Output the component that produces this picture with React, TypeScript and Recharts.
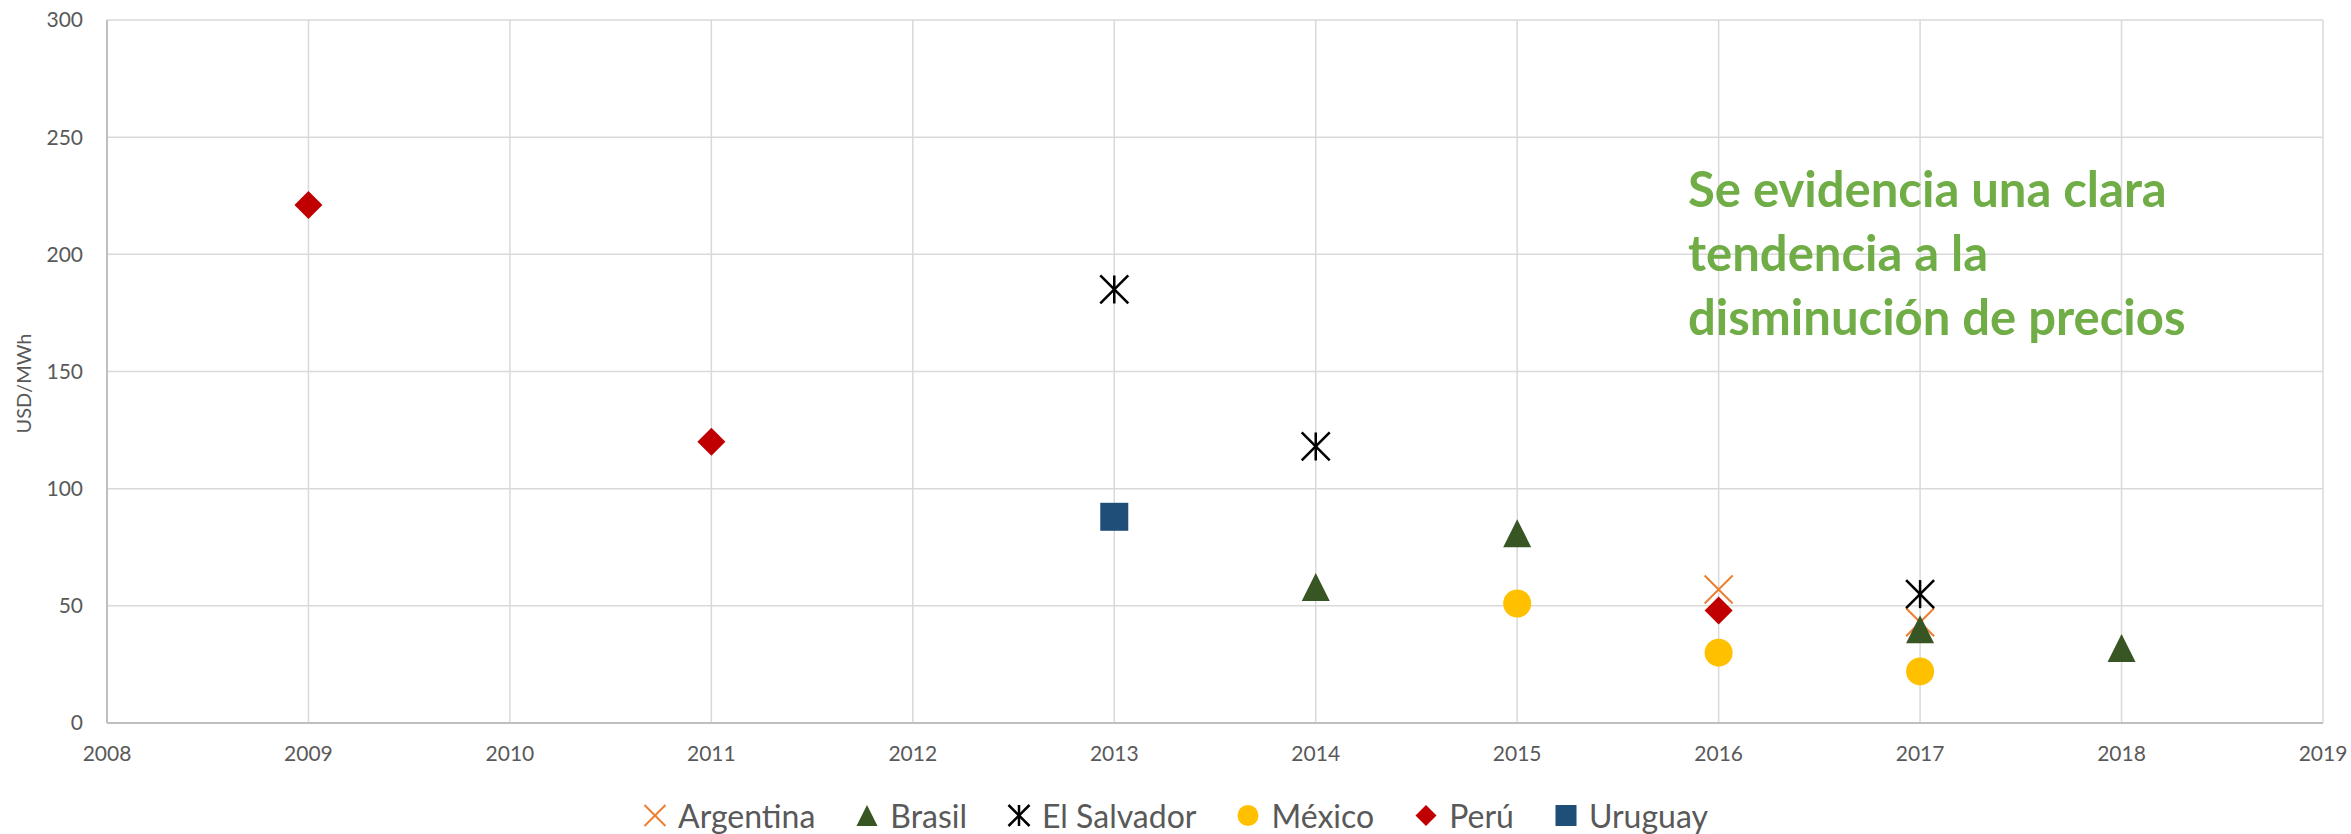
import { ScatterChart, Scatter, XAxis, YAxis, CartesianGrid } from 'recharts';

const years = [2008, 2009, 2010, 2011, 2012, 2013, 2014, 2015, 2016, 2017, 2018, 2019];
const priceTicks = [0, 50, 100, 150, 200, 250, 300];

const argentinaYears = [2016, 2017];
const argentinaPrices = [57, 43];
const brasilYears = [2014, 2015, 2017, 2018];
const brasilPrices = [58, 81, 40, 32];
const salvadorYears = [2013, 2014, 2017];
const salvadorPrices = [185, 118, 55];
const mexicoYears = [2015, 2016, 2017];
const mexicoPrices = [51, 30, 22];
const peruYears = [2009, 2011, 2016];
const peruPrices = [221, 120, 48];
const uruguayYears = [2013];
const uruguayPrices = [88];

const note = ['Se evidencia una clara', 'tendencia a la', 'disminución de precios'];

const FONT = 'Lato, "Open Sans", sans-serif';
const TEXT = '#595959';

type Kind = 'x' | 'triangle' | 'star' | 'circle' | 'diamond' | 'square';

function Marker({ kind, cx, cy, size, color }: { kind: Kind; cx: number; cy: number; size: number; color: string }) {
  const h = size / 2;
  switch (kind) {
    case 'x':
      return (
        <g stroke={color} strokeWidth={2}>
          <line x1={cx - h} y1={cy - h} x2={cx + h} y2={cy + h} />
          <line x1={cx - h} y1={cy + h} x2={cx + h} y2={cy - h} />
        </g>
      );
    case 'star':
      return (
        <g stroke={color} strokeWidth={2.5}>
          <line x1={cx - h} y1={cy - h} x2={cx + h} y2={cy + h} />
          <line x1={cx - h} y1={cy + h} x2={cx + h} y2={cy - h} />
          <line x1={cx} y1={cy - h} x2={cx} y2={cy + h} />
        </g>
      );
    case 'triangle':
      return <polygon points={`${cx},${cy - h} ${cx + h},${cy + h} ${cx - h},${cy + h}`} fill={color} />;
    case 'circle':
      return <circle cx={cx} cy={cy} r={h} fill={color} />;
    case 'diamond':
      return <polygon points={`${cx},${cy - h} ${cx + h},${cy} ${cx},${cy + h} ${cx - h},${cy}`} fill={color} />;
    default:
      return <rect x={cx - h} y={cy - h} width={size} height={size} fill={color} />;
  }
}

const toPoints = (xs: number[], ys: number[]) => xs.map((x, i) => ({ x, y: ys[i] }));

const series: { name: string; kind: Kind; color: string; data: { x: number; y: number }[] }[] = [
  { name: 'Argentina', kind: 'x', color: '#ED7D31', data: toPoints(argentinaYears, argentinaPrices) },
  { name: 'Brasil', kind: 'triangle', color: '#375623', data: toPoints(brasilYears, brasilPrices) },
  { name: 'El Salvador', kind: 'star', color: '#000000', data: toPoints(salvadorYears, salvadorPrices) },
  { name: 'México', kind: 'circle', color: '#FFC000', data: toPoints(mexicoYears, mexicoPrices) },
  { name: 'Perú', kind: 'diamond', color: '#C00000', data: toPoints(peruYears, peruPrices) },
  { name: 'Uruguay', kind: 'square', color: '#1F4E79', data: toPoints(uruguayYears, uruguayPrices) },
];

// draw order matches the reference overlap (Argentina under Brasil, etc.)
const drawOrder = ['Uruguay', 'Perú', 'México', 'Argentina', 'El Salvador', 'Brasil'];

export default function App() {
  return (
    <div style={{ position: 'relative', width: 2351, height: 834, background: '#fff', fontFamily: FONT }}>
      <style>{'body{margin:0}'}</style>
      <ScatterChart width={2351} height={834} margin={{ top: 20, right: 28, bottom: 0, left: 0 }}>
        <CartesianGrid stroke="#D9D9D9" strokeWidth={1.5} verticalValues={years} horizontalValues={priceTicks} />
        <XAxis
          dataKey="x"
          type="number"
          domain={[2008, 2019]}
          ticks={years}
          interval={0}
          height={111}
          tickLine={false}
          tickSize={0}
          tickMargin={23}
          axisLine={{ stroke: '#BFBFBF', strokeWidth: 2 }}
          tick={{ fill: TEXT, fontSize: 21, fontFamily: FONT }}
        />
        <YAxis
          dataKey="y"
          type="number"
          domain={[0, 300]}
          ticks={priceTicks}
          interval={0}
          width={107}
          tickLine={false}
          tickSize={0}
          tickMargin={24}
          axisLine={{ stroke: '#BFBFBF', strokeWidth: 2 }}
          tick={{ fill: TEXT, fontSize: 21, fontFamily: FONT }}
          label={{
            content: ({ viewBox }: any) => {
              const cy = viewBox.y + viewBox.height / 2 + 12;
              return (
                <text x={31} y={cy} transform={`rotate(-90 31 ${cy})`} textAnchor="middle" fill={TEXT} fontSize={20} fontFamily={FONT}>
                  USD/MWh
                </text>
              );
            },
          }}
        />
        {drawOrder.map((n) => {
          const s = series.find((r) => r.name === n)!;
          return (
            <Scatter
              key={s.name}
              name={s.name}
              data={s.data}
              isAnimationActive={false}
              shape={(p: any) => <Marker kind={s.kind} cx={p.cx} cy={p.cy} size={28} color={s.color} />}
            />
          );
        })}
      </ScatterChart>

      <svg width={2351} height={834} style={{ position: 'absolute', left: 0, top: 0, pointerEvents: 'none' }}>
        {note.map((line, i) => (
          <text key={i} x={1688} y={207 + i * 64} fill="#70AD47" fontSize={49} fontWeight={700} fontFamily={FONT}>
            {line}
          </text>
        ))}
      </svg>

      <div
        style={{
          position: 'absolute',
          left: 0,
          width: 2351,
          top: 815,
          transform: 'translateY(-50%)',
          display: 'flex',
          justifyContent: 'center',
          alignItems: 'center',
          gap: 40,
          fontSize: 32,
          color: TEXT,
        }}
      >
        {series.map((s) => (
          <div key={s.name} style={{ display: 'flex', alignItems: 'center', gap: 11 }}>
            <svg width={24} height={24}>
              <Marker kind={s.kind} cx={12} cy={12} size={21} color={s.color} />
            </svg>
            <span>{s.name}</span>
          </div>
        ))}
      </div>
    </div>
  );
}
